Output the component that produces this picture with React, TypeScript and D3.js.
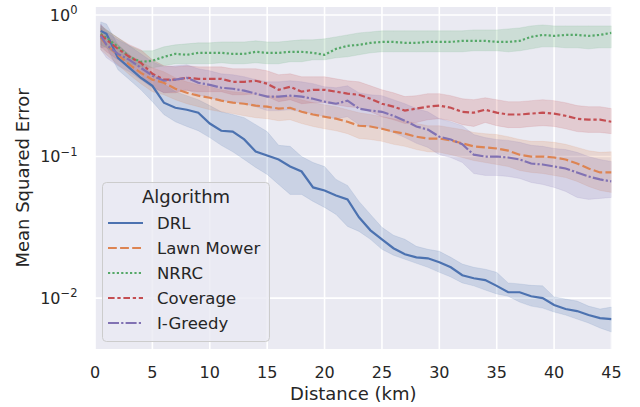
import React, { useEffect, useRef } from "react";
import * as d3 from "d3";

// distance (km) at which each point was sampled
const distances = [0.5, 1, 2, 3, 4, 5, 6, 7, 8, 9, 10, 11, 12, 13, 14, 15, 16, 17, 18, 19, 20, 21, 22, 23, 24, 25, 26, 27, 28, 29, 30, 31, 32, 33, 34, 35, 36, 37, 38, 39, 40, 41, 42, 43, 44, 45];

const algorithms = ["DRL", "Lawn Mower", "NRRC", "Coverage", "I-Greedy"];

// mean squared error, mean and confidence band per algorithm
const drlMean = [0.772, 0.735, 0.498, 0.423, 0.360, 0.316, 0.240, 0.221, 0.214, 0.204, 0.171, 0.152, 0.150, 0.132, 0.1085, 0.1016, 0.0953, 0.0850, 0.0784, 0.0605, 0.0576, 0.0531, 0.0498, 0.0372, 0.0301, 0.0260, 0.0225, 0.0204, 0.0194, 0.0191, 0.0179, 0.0165, 0.0145, 0.0138, 0.0134, 0.0122, 0.0110, 0.0110, 0.0103, 0.0100, 0.00893, 0.00837, 0.00810, 0.00759, 0.00723, 0.00711];
const drlHigh = [0.893, 0.864, 0.615, 0.523, 0.445, 0.384, 0.327, 0.287, 0.269, 0.252, 0.229, 0.207, 0.198, 0.188, 0.168, 0.150, 0.120, 0.118, 0.100, 0.0907, 0.0850, 0.0689, 0.0625, 0.0482, 0.0390, 0.0316, 0.0278, 0.0260, 0.0232, 0.0221, 0.0214, 0.0194, 0.0174, 0.0165, 0.0160, 0.0152, 0.0128, 0.0126, 0.0123, 0.0122, 0.0102, 0.00984, 0.00953, 0.00878, 0.00837, 0.00864];
const drlLow = [0.586, 0.595, 0.410, 0.349, 0.296, 0.244, 0.198, 0.176, 0.163, 0.152, 0.136, 0.120, 0.108, 0.0953, 0.0837, 0.0747, 0.0635, 0.0540, 0.0540, 0.0482, 0.0437, 0.0390, 0.0321, 0.0296, 0.0260, 0.0221, 0.0201, 0.0188, 0.0176, 0.0165, 0.0152, 0.0141, 0.0128, 0.0122, 0.0114, 0.0107, 0.0103, 0.00937, 0.00878, 0.00850, 0.00797, 0.00759, 0.00711, 0.00667, 0.00615, 0.00576];

const lawnMean = [0.689, 0.615, 0.523, 0.445, 0.390, 0.349, 0.332, 0.301, 0.282, 0.269, 0.260, 0.248, 0.240, 0.236, 0.229, 0.225, 0.218, 0.221, 0.207, 0.198, 0.191, 0.185, 0.176, 0.165, 0.163, 0.157, 0.150, 0.145, 0.138, 0.134, 0.134, 0.130, 0.124, 0.118, 0.116, 0.114, 0.110, 0.103, 0.100, 0.100, 0.0984, 0.0953, 0.0893, 0.0823, 0.0772, 0.0772];
const lawnHigh = [0.810, 0.723, 0.615, 0.523, 0.467, 0.423, 0.397, 0.360, 0.337, 0.321, 0.311, 0.296, 0.287, 0.282, 0.273, 0.269, 0.265, 0.265, 0.252, 0.240, 0.232, 0.225, 0.214, 0.204, 0.198, 0.191, 0.185, 0.179, 0.171, 0.165, 0.165, 0.160, 0.155, 0.148, 0.145, 0.143, 0.138, 0.132, 0.128, 0.128, 0.126, 0.122, 0.116, 0.110, 0.107, 0.108];
const lawnLow = [0.567, 0.523, 0.445, 0.378, 0.327, 0.287, 0.273, 0.252, 0.236, 0.225, 0.214, 0.207, 0.201, 0.194, 0.188, 0.185, 0.179, 0.182, 0.171, 0.163, 0.157, 0.152, 0.145, 0.134, 0.132, 0.128, 0.122, 0.118, 0.112, 0.108, 0.107, 0.103, 0.0984, 0.0937, 0.0907, 0.0878, 0.0850, 0.0797, 0.0772, 0.0759, 0.0735, 0.0711, 0.0667, 0.0615, 0.0576, 0.0558];

const nrrcMean = [0.735, 0.689, 0.595, 0.506, 0.467, 0.474, 0.506, 0.531, 0.523, 0.540, 0.540, 0.540, 0.531, 0.531, 0.549, 0.540, 0.540, 0.549, 0.549, 0.540, 0.523, 0.576, 0.605, 0.615, 0.635, 0.645, 0.645, 0.635, 0.635, 0.645, 0.645, 0.645, 0.656, 0.656, 0.656, 0.645, 0.645, 0.656, 0.700, 0.723, 0.711, 0.723, 0.723, 0.711, 0.723, 0.747];
const nrrcHigh = [0.837, 0.784, 0.689, 0.605, 0.558, 0.558, 0.595, 0.615, 0.625, 0.635, 0.635, 0.645, 0.645, 0.645, 0.656, 0.645, 0.645, 0.656, 0.667, 0.667, 0.678, 0.700, 0.723, 0.747, 0.759, 0.772, 0.772, 0.772, 0.772, 0.772, 0.772, 0.772, 0.772, 0.784, 0.784, 0.784, 0.797, 0.810, 0.837, 0.850, 0.837, 0.837, 0.837, 0.837, 0.837, 0.837];
const nrrcLow = [0.615, 0.586, 0.514, 0.452, 0.430, 0.423, 0.437, 0.452, 0.452, 0.452, 0.452, 0.459, 0.452, 0.452, 0.459, 0.452, 0.452, 0.467, 0.467, 0.482, 0.482, 0.498, 0.506, 0.523, 0.540, 0.549, 0.549, 0.549, 0.549, 0.549, 0.549, 0.549, 0.549, 0.558, 0.558, 0.558, 0.549, 0.558, 0.576, 0.595, 0.595, 0.586, 0.586, 0.576, 0.586, 0.586];

const coverageMean = [0.723, 0.667, 0.576, 0.506, 0.459, 0.384, 0.349, 0.349, 0.360, 0.354, 0.354, 0.354, 0.337, 0.337, 0.343, 0.327, 0.296, 0.311, 0.287, 0.296, 0.296, 0.287, 0.278, 0.273, 0.256, 0.236, 0.225, 0.211, 0.218, 0.225, 0.229, 0.221, 0.207, 0.204, 0.214, 0.204, 0.198, 0.198, 0.201, 0.204, 0.201, 0.194, 0.185, 0.182, 0.182, 0.176];
const coverageHigh = [0.850, 0.784, 0.689, 0.615, 0.567, 0.482, 0.437, 0.430, 0.437, 0.430, 0.430, 0.430, 0.417, 0.417, 0.417, 0.403, 0.378, 0.384, 0.366, 0.366, 0.366, 0.354, 0.343, 0.337, 0.316, 0.296, 0.282, 0.265, 0.269, 0.278, 0.278, 0.269, 0.256, 0.252, 0.260, 0.252, 0.244, 0.244, 0.248, 0.252, 0.248, 0.240, 0.229, 0.225, 0.225, 0.218];
const coverageLow = [0.595, 0.549, 0.482, 0.423, 0.378, 0.311, 0.282, 0.282, 0.292, 0.287, 0.287, 0.287, 0.273, 0.273, 0.278, 0.265, 0.244, 0.252, 0.236, 0.240, 0.240, 0.232, 0.225, 0.221, 0.207, 0.191, 0.182, 0.171, 0.174, 0.182, 0.185, 0.179, 0.168, 0.163, 0.174, 0.165, 0.160, 0.160, 0.163, 0.165, 0.163, 0.157, 0.150, 0.148, 0.148, 0.145];

const greedyMean = [0.711, 0.615, 0.531, 0.482, 0.423, 0.372, 0.343, 0.349, 0.360, 0.332, 0.321, 0.306, 0.301, 0.292, 0.278, 0.265, 0.265, 0.269, 0.265, 0.256, 0.244, 0.236, 0.248, 0.218, 0.211, 0.207, 0.194, 0.179, 0.163, 0.155, 0.138, 0.132, 0.122, 0.103, 0.100, 0.100, 0.0984, 0.0953, 0.0893, 0.0878, 0.0850, 0.0823, 0.0772, 0.0723, 0.0689, 0.0667];
const greedyHigh = [0.864, 0.759, 0.667, 0.605, 0.531, 0.467, 0.430, 0.437, 0.445, 0.417, 0.403, 0.384, 0.378, 0.366, 0.349, 0.337, 0.337, 0.343, 0.337, 0.327, 0.311, 0.306, 0.316, 0.282, 0.273, 0.269, 0.252, 0.236, 0.218, 0.207, 0.185, 0.176, 0.165, 0.143, 0.136, 0.132, 0.130, 0.126, 0.120, 0.118, 0.114, 0.112, 0.107, 0.100, 0.0953, 0.0922];
const greedyLow = [0.567, 0.498, 0.437, 0.397, 0.349, 0.306, 0.282, 0.287, 0.296, 0.273, 0.260, 0.248, 0.244, 0.236, 0.225, 0.211, 0.211, 0.214, 0.207, 0.201, 0.191, 0.185, 0.191, 0.168, 0.163, 0.157, 0.148, 0.136, 0.124, 0.116, 0.103, 0.0984, 0.0907, 0.0759, 0.0735, 0.0735, 0.0723, 0.0700, 0.0656, 0.0635, 0.0605, 0.0567, 0.0514, 0.0498, 0.0506, 0.0514];

const xTicks = [0, 5, 10, 15, 20, 25, 30, 35, 40, 45];
const yTicks = [1, 0.1, 0.01];
const yTickExponents = ["0", "\u22121", "\u22122"];

const colors = ["#4c72b0", "#dd8452", "#55a868", "#c44e52", "#8172b3"];
const dashes = ["", "8.8,3.3", "2.2,2.2", "6.6,2.75,3.3,2.75", "11,2.2,2.2,2.2"];

const means = [drlMean, lawnMean, nrrcMean, coverageMean, greedyMean];
const highs = [drlHigh, lawnHigh, nrrcHigh, coverageHigh, greedyHigh];
const lows = [drlLow, lawnLow, nrrcLow, coverageLow, greedyLow];

const FONT = "DejaVu Sans, sans-serif";
const INK = "#262626";

const MseChart: React.FC = () => {
  const svgRef = useRef<SVGSVGElement>(null);

  useEffect(() => {
    document.body.style.margin = "0";
    const width = 640;
    const height = 407;
    const plot = { left: 95, right: 611.5, top: 7, bottom: 349 };

    const svg = d3.select(svgRef.current)
      .attr("width", width)
      .attr("height", height);

    const x = d3.scaleLinear().domain([0, 45]).range([plot.left, plot.right]);
    const y = d3.scaleLog().domain([0.00437, 1.138]).range([plot.bottom, plot.top]);

    svg.append("rect")
      .attr("x", plot.left)
      .attr("y", plot.top)
      .attr("width", plot.right - plot.left)
      .attr("height", plot.bottom - plot.top)
      .attr("fill", "#eaeaf2");

    svg.append("clipPath").attr("id", "plot-clip")
      .append("rect")
      .attr("x", plot.left)
      .attr("y", plot.top)
      .attr("width", plot.right - plot.left)
      .attr("height", plot.bottom - plot.top);

    // grid
    const grid = svg.append("g").attr("clip-path", "url(#plot-clip)");
    grid.selectAll("line.gx").data(xTicks).join("line")
      .attr("x1", (d) => x(d)).attr("x2", (d) => x(d))
      .attr("y1", plot.top).attr("y2", plot.bottom)
      .attr("stroke", "#fff").attr("stroke-width", 1.6);
    grid.selectAll("line.gy").data(yTicks).join("line")
      .attr("x1", plot.left).attr("x2", plot.right)
      .attr("y1", (d) => y(d)).attr("y2", (d) => y(d))
      .attr("stroke", "#fff").attr("stroke-width", 1.6);

    const marks = svg.append("g").attr("clip-path", "url(#plot-clip)");

    // bands first, lines above them
    algorithms.forEach((_, k) => {
      const area = d3.area<number>()
        .x((d) => x(d))
        .y0((_d, i) => y(lows[k][i]))
        .y1((_d, i) => y(highs[k][i]));
      marks.append("path")
        .attr("d", area(distances))
        .attr("fill", colors[k])
        .attr("fill-opacity", 0.2)
        .attr("stroke", colors[k])
        .attr("stroke-opacity", 0.12)
        .attr("stroke-width", 1);
    });

    algorithms.forEach((_, k) => {
      const line = d3.line<number>()
        .x((d) => x(d))
        .y((_d, i) => y(means[k][i]));
      marks.append("path")
        .attr("d", line(distances))
        .attr("fill", "none")
        .attr("stroke", colors[k])
        .attr("stroke-width", 2.2)
        .attr("stroke-dasharray", dashes[k] || null);
    });

    // x tick labels
    svg.selectAll("text.xt").data(xTicks).join("text")
      .attr("x", (d) => x(d))
      .attr("y", 377.5)
      .attr("text-anchor", "middle")
      .attr("font-family", FONT)
      .attr("font-size", 16)
      .attr("fill", INK)
      .text((d) => d);

    // y tick labels as 10^n
    yTicks.forEach((t, i) => {
      const label = svg.append("text")
        .attr("x", 77.5)
        .attr("y", y(t) + 5.8)
        .attr("text-anchor", "end")
        .attr("font-family", FONT)
        .attr("font-size", 16)
        .attr("fill", INK);
      label.append("tspan").text("10");
      label.append("tspan")
        .attr("font-size", 11.5)
        .attr("dy", -6.5)
        .text(yTickExponents[i]);
    });

    svg.append("text")
      .attr("x", (plot.left + plot.right) / 2)
      .attr("y", 400)
      .attr("text-anchor", "middle")
      .attr("font-family", FONT)
      .attr("font-size", 18)
      .attr("fill", INK)
      .text("Distance (km)");

    svg.append("text")
      .attr("transform", `translate(29, ${(plot.top + plot.bottom) / 2}) rotate(-90)`)
      .attr("text-anchor", "middle")
      .attr("font-family", FONT)
      .attr("font-size", 18)
      .attr("fill", INK)
      .text("Mean Squared Error");

    // legend
    const legend = svg.append("g");
    legend.append("rect")
      .attr("x", 102.5).attr("y", 182.5)
      .attr("width", 167).attr("height", 159)
      .attr("rx", 4)
      .attr("fill", "#eaeaf2").attr("fill-opacity", 0.8)
      .attr("stroke", "#cccccc").attr("stroke-width", 1);
    legend.append("text")
      .attr("x", 186).attr("y", 203)
      .attr("text-anchor", "middle")
      .attr("font-family", FONT)
      .attr("font-size", 18)
      .attr("fill", INK)
      .text("Algorithm");
    algorithms.forEach((name, k) => {
      const base = 229 + k * 25;
      legend.append("line")
        .attr("x1", 108).attr("x2", 143)
        .attr("y1", base - 6).attr("y2", base - 6)
        .attr("stroke", colors[k])
        .attr("stroke-width", 2.2)
        .attr("stroke-dasharray", dashes[k] || null);
      legend.append("text")
        .attr("x", 157).attr("y", base)
        .attr("font-family", FONT)
        .attr("font-size", 16.5)
        .attr("fill", INK)
        .text(name);
    });

    return () => {
      svg.selectAll("*").remove();
    };
  }, []);

  return <svg ref={svgRef} style={{ display: "block" }}></svg>;
};

export default function App() {
  return <MseChart />;
}
